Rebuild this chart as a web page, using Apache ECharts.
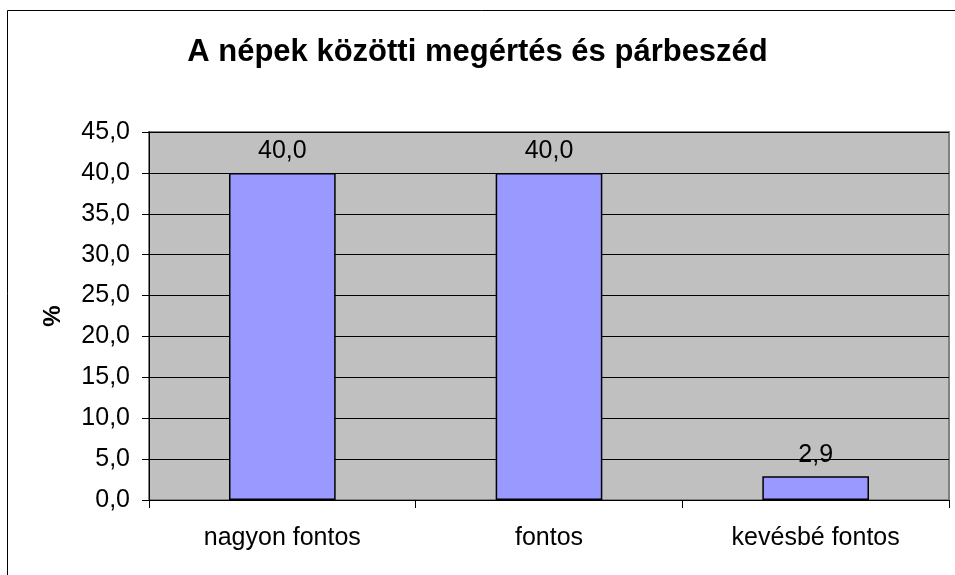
<!DOCTYPE html>
<html>
<head>
<meta charset="utf-8">
<script src="https://cdn.jsdelivr.net/npm/echarts@6/dist/echarts.min.js"></script>
<style>
  html, body { margin: 0; padding: 0; background: #fff; }
  #chart { width: 955px; height: 575px; }
</style>
</head>
<body>
<div id="chart"></div>
<script>
// adatok
var categories = ['nagyon fontos', 'fontos', 'kevésbé fontos'];
var values = [40.0, 40.0, 2.9];
var yTicks = [0, 5, 10, 15, 20, 25, 30, 35, 40, 45];

var fmt = function (v) { return Number(v).toFixed(1).replace('.', ','); };
var font = '"Liberation Sans", Arial, sans-serif';

var chart = echarts.init(document.getElementById('chart'));
var option = {
  animation: false,
  backgroundColor: '#fff',
  title: {
    text: 'A népek közötti megértés és párbeszéd',
    left: 'center',
    top: 37,
    padding: 0,
    textStyle: { fontFamily: font, fontSize: 31, fontWeight: 'bold', color: '#000' }
  },
  graphic: [{
    type: 'rect',
    shape: { x: 7.5, y: 10.5, width: 2000, height: 2000 },
    style: { fill: null, stroke: '#000', lineWidth: 1 },
    silent: true
  }],
  grid: {
    left: 149, top: 132, right: 6, bottom: 75,
    show: true, backgroundColor: '#C0C0C0', borderColor: '#808080', borderWidth: 2
  },
  xAxis: {
    type: 'category',
    data: categories,
    axisLine: { lineStyle: { color: '#000', width: 1 } },
    axisTick: { show: true, length: 8, interval: 0, lineStyle: { color: '#000' } },
    axisLabel: { margin: 26, interval: 0, fontFamily: font, fontSize: 25, color: '#000' }
  },
  yAxis: {
    type: 'value',
    min: yTicks[0],
    max: yTicks[yTicks.length - 1],
    interval: 5,
    name: '%',
    nameLocation: 'middle',
    nameRotate: 90,
    nameGap: 84,
    nameTextStyle: { fontFamily: font, fontSize: 24, fontWeight: 'bold', color: '#000' },
    axisLine: { show: true, lineStyle: { color: '#000', width: 1 } },
    axisTick: { show: true, length: 7, lineStyle: { color: '#000' } },
    axisLabel: { margin: 19, formatter: fmt, fontFamily: font, fontSize: 25, color: '#000' },
    splitLine: { show: true, lineStyle: { color: '#000', width: 1 } }
  },
  series: [{
    type: 'bar',
    data: values,
    barWidth: '40%',
    itemStyle: { color: '#9999FF', borderColor: '#000', borderWidth: 1.5 },
    label: {
      show: true, position: 'top', distance: 9,
      formatter: function (p) { return fmt(p.value); },
      fontFamily: font, fontSize: 25, color: '#000'
    }
  }]
};
chart.setOption(option);
</script>
</body>
</html>
